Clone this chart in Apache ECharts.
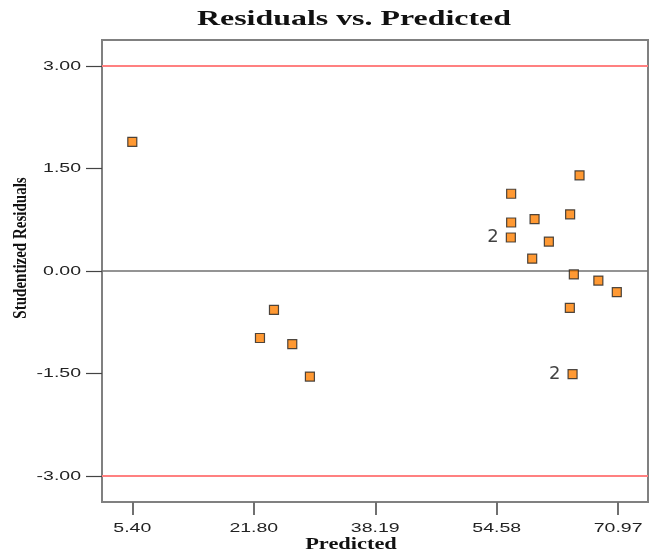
<!DOCTYPE html>
<html>
<head>
<meta charset="utf-8">
<script src="https://cdn.jsdelivr.net/npm/echarts@6/dist/echarts.min.js"></script>
<style>
  html, body { margin: 0; padding: 0; background: #fff; }
  #chart { width: 654px; height: 556px; }
</style>
</head>
<body>
<div id="chart"></div>
<script>
// Predicted response vs. studentized residual for each run
const predicted = [5.40, 22.63, 24.52, 26.99, 29.37, 56.53, 56.53, 56.49, 59.69, 59.37, 61.62, 64.49, 65.76, 64.99, 68.30, 70.79, 64.45, 64.82];
const residuals = [1.89, -0.98, -0.57, -1.07, -1.545, 1.13, 0.71, 0.49, 0.76, 0.18, 0.43, 0.83, 1.40, -0.05, -0.14, -0.31, -0.54, -1.51];
// number of coincident runs at a point (shown when more than one)
const runCounts = [1, 1, 1, 1, 1, 1, 1, 2, 1, 1, 1, 1, 1, 1, 1, 1, 1, 2];

const xTicks = [5.40, 21.80, 38.19, 54.58, 70.97];
const yTicks = [-3.00, -1.50, 0.00, 1.50, 3.00];
const outlierLimits = [-3.00, 3.00];

// the typeface is drawn wide, so text is stretched horizontally
const WIDE = 1.5;

const points = predicted.map((p, i) => {
  const item = { value: [p, residuals[i]] };
  if (runCounts[i] > 1) {
    item.label = { show: true, formatter: String(runCounts[i]) };
  }
  return item;
});

const chart = echarts.init(document.getElementById('chart'), null, { renderer: 'canvas' });

chart.setOption({
  animation: false,
  backgroundColor: '#ffffff',
  grid: {
    left: 102,
    top: 40,
    width: 546,
    height: 462,
    show: true,
    borderColor: '#808080',
    borderWidth: 2,
    backgroundColor: 'transparent'
  },
  xAxis: {
    type: 'value',
    min: 1.31,
    max: 75.0,
    axisLine: { show: false, onZero: false },
    splitLine: { show: false },
    axisTick: {
      show: true,
      customValues: xTicks,
      length: 13,
      lineStyle: { color: '#707070', width: 2 }
    },
    axisLabel: { show: false }
  },
  yAxis: {
    type: 'value',
    min: -3.38,
    max: 3.38,
    axisLine: { show: false, onZero: false },
    splitLine: { show: false },
    axisTick: {
      show: true,
      customValues: yTicks,
      length: 16,
      lineStyle: { color: '#444', width: 1.2 }
    },
    axisLabel: { show: false }
  },
  series: [
    {
      type: 'scatter',
      data: points,
      symbol: 'rect',
      symbolSize: 9,
      itemStyle: {
        color: '#ff8000',
        borderColor: '#222',
        borderWidth: 1.2
      },
      label: {
        show: false,
        position: 'left',
        distance: 7,
        fontFamily: 'DejaVu Sans',
        fontSize: 18,
        color: '#111'
      },
      markLine: {
        silent: true,
        symbol: 'none',
        label: { show: false },
        data: [
          { yAxis: 0, lineStyle: { color: '#707070', width: 1.5, type: 'solid' } },
          { yAxis: outlierLimits[0], lineStyle: { color: '#ff8080', width: 1.8, type: 'solid' } },
          { yAxis: outlierLimits[1], lineStyle: { color: '#ff8080', width: 1.8, type: 'solid' } }
        ]
      },
      z: 5
    }
  ]
});

// Text elements: tick labels are placed from the axis scales
const tickFont = { fontFamily: 'Liberation Sans', fontSize: 13, fill: '#222' };
const texts = [];

xTicks.forEach(v => {
  const px = chart.convertToPixel({ xAxisIndex: 0 }, v);
  texts.push({
    type: 'text', x: px, y: 528, scaleX: WIDE,
    style: Object.assign({ text: v.toFixed(2), align: 'center', verticalAlign: 'middle' }, tickFont)
  });
});
yTicks.forEach(v => {
  const py = chart.convertToPixel({ yAxisIndex: 0 }, v);
  texts.push({
    type: 'text', x: 81, y: py, scaleX: WIDE,
    style: Object.assign({ text: v.toFixed(2), align: 'right', verticalAlign: 'middle' }, tickFont)
  });
});

texts.push({
  type: 'text', x: 354, y: 19, scaleX: 1.45,
  style: {
    text: 'Residuals vs. Predicted',
    fontFamily: 'Liberation Serif', fontWeight: 'bold', fontSize: 22, fill: '#111',
    align: 'center', verticalAlign: 'middle'
  }
});
texts.push({
  type: 'text', x: 351, y: 545, scaleX: 1.4,
  style: {
    text: 'Predicted',
    fontFamily: 'Liberation Serif', fontWeight: 'bold', fontSize: 16, fill: '#111',
    align: 'center', verticalAlign: 'middle'
  }
});
texts.push({
  type: 'text', x: 21, y: 248, rotation: Math.PI / 2, scaleY: 1.3,
  style: {
    text: 'Studentized Residuals',
    fontFamily: 'Liberation Serif', fontWeight: 'bold', fontSize: 15, fill: '#111',
    align: 'center', verticalAlign: 'middle'
  }
});

chart.setOption({ graphic: texts });
</script>
</body>
</html>
